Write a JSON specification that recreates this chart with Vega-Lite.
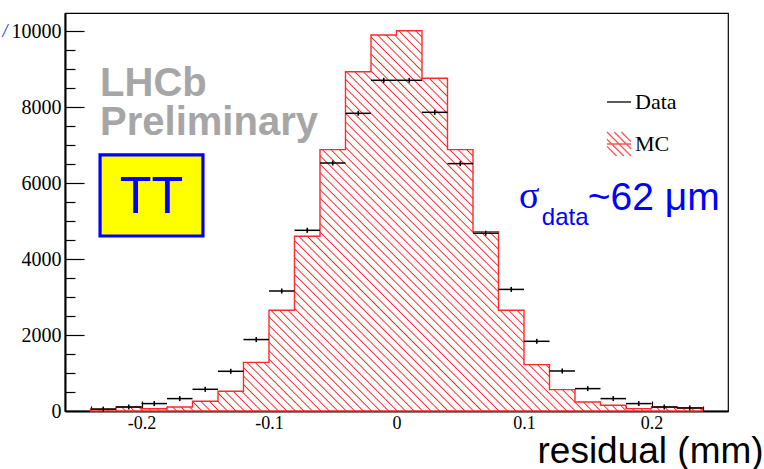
{
  "$schema": "https://vega.github.io/schema/vega-lite/v6.json",
  "width": 663,
  "height": 398,
  "autosize": "none",
  "padding": {"left": 65, "top": 13, "right": 36, "bottom": 58},
  "background": "white",
  "config": {
    "view": {"stroke": "black", "strokeWidth": 1.2},
    "axis": {"grid": false, "labelOverlap": false},
    "legend": {
      "labelFont": "Liberation Serif",
      "labelFontSize": 22,
      "labelColor": "black",
      "labelOffset": 3,
      "symbolSize": 576,
      "symbolStrokeWidth": 1.3,
      "orient": "none"
    }
  },
  "resolve": {
    "axis": {"x": "independent", "y": "independent"},
    "scale": {"stroke": "independent"},
    "legend": {"stroke": "independent"}
  },
  "data": {
    "values": [
      {"lo": -0.24, "hi": -0.22, "residual": -0.23, "mc": 50, "data": 50},
      {"lo": -0.22, "hi": -0.2, "residual": -0.21, "mc": 105, "data": 105},
      {"lo": -0.2, "hi": -0.18, "residual": -0.19, "mc": 60, "data": 195},
      {"lo": -0.18, "hi": -0.16, "residual": -0.17, "mc": 105, "data": 326},
      {"lo": -0.16, "hi": -0.14, "residual": -0.15, "mc": 255, "data": 571},
      {"lo": -0.14, "hi": -0.12, "residual": -0.13, "mc": 518, "data": 1045},
      {"lo": -0.12, "hi": -0.1, "residual": -0.11, "mc": 1280, "data": 1880},
      {"lo": -0.1, "hi": -0.08, "residual": -0.09, "mc": 2650, "data": 3158},
      {"lo": -0.08, "hi": -0.06, "residual": -0.07, "mc": 4597, "data": 4755},
      {"lo": -0.06, "hi": -0.04, "residual": -0.05, "mc": 6879, "data": 6526},
      {"lo": -0.04, "hi": -0.02, "residual": -0.03, "mc": 8929, "data": 7834},
      {"lo": -0.02, "hi": 0, "residual": -0.01, "mc": 9895, "data": 8703},
      {"lo": 0, "hi": 0.02, "residual": 0.01, "mc": 10008, "data": 8703},
      {"lo": 0.02, "hi": 0.04, "residual": 0.03, "mc": 8755, "data": 7860},
      {"lo": 0.04, "hi": 0.06, "residual": 0.05, "mc": 6879, "data": 6510},
      {"lo": 0.06, "hi": 0.08, "residual": 0.07, "mc": 4720, "data": 4680},
      {"lo": 0.08, "hi": 0.1, "residual": 0.09, "mc": 2650, "data": 3200},
      {"lo": 0.1, "hi": 0.12, "residual": 0.11, "mc": 1220, "data": 1834},
      {"lo": 0.12, "hi": 0.14, "residual": 0.13, "mc": 563, "data": 1053},
      {"lo": 0.14, "hi": 0.16, "residual": 0.15, "mc": 237, "data": 589},
      {"lo": 0.16, "hi": 0.18, "residual": 0.17, "mc": 150, "data": 326},
      {"lo": 0.18, "hi": 0.2, "residual": 0.19, "mc": 63, "data": 195},
      {"lo": 0.2, "hi": 0.22, "residual": 0.21, "mc": 105, "data": 105},
      {"lo": 0.22, "hi": 0.24, "residual": 0.23, "mc": 80, "data": 80}
    ]
  },
  "layer": [
    {
      "transform": [{"fold": ["lo", "hi"], "as": ["edge", "edge_x"]}],
      "mark": {
        "type": "area",
        "strokeWidth": 1.4,
        "fill": {
          "gradient": "linear",
          "x1": 0, "y1": 1, "x2": 1, "y2": 0.3786,
          "stops": [
            {"offset":0,"color":"#fff"},{"offset":0.0015,"color":"#f22"},{"offset":0.003,"color":"#fff"},
            {"offset":0.01,"color":"#fff"},{"offset":0.0115,"color":"#f22"},{"offset":0.013,"color":"#fff"},
            {"offset":0.02,"color":"#fff"},{"offset":0.0215,"color":"#f22"},{"offset":0.023,"color":"#fff"},
            {"offset":0.03,"color":"#fff"},{"offset":0.0315,"color":"#f22"},{"offset":0.033,"color":"#fff"},
            {"offset":0.04,"color":"#fff"},{"offset":0.0415,"color":"#f22"},{"offset":0.043,"color":"#fff"},
            {"offset":0.05,"color":"#fff"},{"offset":0.0515,"color":"#f22"},{"offset":0.053,"color":"#fff"},
            {"offset":0.06,"color":"#fff"},{"offset":0.0615,"color":"#f22"},{"offset":0.063,"color":"#fff"},
            {"offset":0.07,"color":"#fff"},{"offset":0.0715,"color":"#f22"},{"offset":0.073,"color":"#fff"},
            {"offset":0.08,"color":"#fff"},{"offset":0.0815,"color":"#f22"},{"offset":0.083,"color":"#fff"},
            {"offset":0.09,"color":"#fff"},{"offset":0.0915,"color":"#f22"},{"offset":0.093,"color":"#fff"},
            {"offset":0.1,"color":"#fff"},{"offset":0.1015,"color":"#f22"},{"offset":0.103,"color":"#fff"},
            {"offset":0.11,"color":"#fff"},{"offset":0.1115,"color":"#f22"},{"offset":0.113,"color":"#fff"},
            {"offset":0.12,"color":"#fff"},{"offset":0.1215,"color":"#f22"},{"offset":0.123,"color":"#fff"},
            {"offset":0.13,"color":"#fff"},{"offset":0.1315,"color":"#f22"},{"offset":0.133,"color":"#fff"},
            {"offset":0.14,"color":"#fff"},{"offset":0.1415,"color":"#f22"},{"offset":0.143,"color":"#fff"},
            {"offset":0.15,"color":"#fff"},{"offset":0.1515,"color":"#f22"},{"offset":0.153,"color":"#fff"},
            {"offset":0.16,"color":"#fff"},{"offset":0.1615,"color":"#f22"},{"offset":0.163,"color":"#fff"},
            {"offset":0.17,"color":"#fff"},{"offset":0.1715,"color":"#f22"},{"offset":0.173,"color":"#fff"},
            {"offset":0.18,"color":"#fff"},{"offset":0.1815,"color":"#f22"},{"offset":0.183,"color":"#fff"},
            {"offset":0.19,"color":"#fff"},{"offset":0.1915,"color":"#f22"},{"offset":0.193,"color":"#fff"},
            {"offset":0.2,"color":"#fff"},{"offset":0.2015,"color":"#f22"},{"offset":0.203,"color":"#fff"},
            {"offset":0.21,"color":"#fff"},{"offset":0.2115,"color":"#f22"},{"offset":0.213,"color":"#fff"},
            {"offset":0.22,"color":"#fff"},{"offset":0.2215,"color":"#f22"},{"offset":0.223,"color":"#fff"},
            {"offset":0.23,"color":"#fff"},{"offset":0.2315,"color":"#f22"},{"offset":0.233,"color":"#fff"},
            {"offset":0.24,"color":"#fff"},{"offset":0.2415,"color":"#f22"},{"offset":0.243,"color":"#fff"},
            {"offset":0.25,"color":"#fff"},{"offset":0.2515,"color":"#f22"},{"offset":0.253,"color":"#fff"},
            {"offset":0.26,"color":"#fff"},{"offset":0.2615,"color":"#f22"},{"offset":0.263,"color":"#fff"},
            {"offset":0.27,"color":"#fff"},{"offset":0.2715,"color":"#f22"},{"offset":0.273,"color":"#fff"},
            {"offset":0.28,"color":"#fff"},{"offset":0.2815,"color":"#f22"},{"offset":0.283,"color":"#fff"},
            {"offset":0.29,"color":"#fff"},{"offset":0.2915,"color":"#f22"},{"offset":0.293,"color":"#fff"},
            {"offset":0.3,"color":"#fff"},{"offset":0.3015,"color":"#f22"},{"offset":0.303,"color":"#fff"},
            {"offset":0.31,"color":"#fff"},{"offset":0.3115,"color":"#f22"},{"offset":0.313,"color":"#fff"},
            {"offset":0.32,"color":"#fff"},{"offset":0.3215,"color":"#f22"},{"offset":0.323,"color":"#fff"},
            {"offset":0.33,"color":"#fff"},{"offset":0.3315,"color":"#f22"},{"offset":0.333,"color":"#fff"},
            {"offset":0.34,"color":"#fff"},{"offset":0.3415,"color":"#f22"},{"offset":0.343,"color":"#fff"},
            {"offset":0.35,"color":"#fff"},{"offset":0.3515,"color":"#f22"},{"offset":0.353,"color":"#fff"},
            {"offset":0.36,"color":"#fff"},{"offset":0.3615,"color":"#f22"},{"offset":0.363,"color":"#fff"},
            {"offset":0.37,"color":"#fff"},{"offset":0.3715,"color":"#f22"},{"offset":0.373,"color":"#fff"},
            {"offset":0.38,"color":"#fff"},{"offset":0.3815,"color":"#f22"},{"offset":0.383,"color":"#fff"},
            {"offset":0.39,"color":"#fff"},{"offset":0.3915,"color":"#f22"},{"offset":0.393,"color":"#fff"},
            {"offset":0.4,"color":"#fff"},{"offset":0.4015,"color":"#f22"},{"offset":0.403,"color":"#fff"},
            {"offset":0.41,"color":"#fff"},{"offset":0.4115,"color":"#f22"},{"offset":0.413,"color":"#fff"},
            {"offset":0.42,"color":"#fff"},{"offset":0.4215,"color":"#f22"},{"offset":0.423,"color":"#fff"},
            {"offset":0.43,"color":"#fff"},{"offset":0.4315,"color":"#f22"},{"offset":0.433,"color":"#fff"},
            {"offset":0.44,"color":"#fff"},{"offset":0.4415,"color":"#f22"},{"offset":0.443,"color":"#fff"},
            {"offset":0.45,"color":"#fff"},{"offset":0.4515,"color":"#f22"},{"offset":0.453,"color":"#fff"},
            {"offset":0.46,"color":"#fff"},{"offset":0.4615,"color":"#f22"},{"offset":0.463,"color":"#fff"},
            {"offset":0.47,"color":"#fff"},{"offset":0.4715,"color":"#f22"},{"offset":0.473,"color":"#fff"},
            {"offset":0.48,"color":"#fff"},{"offset":0.4815,"color":"#f22"},{"offset":0.483,"color":"#fff"},
            {"offset":0.49,"color":"#fff"},{"offset":0.4915,"color":"#f22"},{"offset":0.493,"color":"#fff"},
            {"offset":0.5,"color":"#fff"},{"offset":0.5015,"color":"#f22"},{"offset":0.503,"color":"#fff"},
            {"offset":0.51,"color":"#fff"},{"offset":0.5115,"color":"#f22"},{"offset":0.513,"color":"#fff"},
            {"offset":0.52,"color":"#fff"},{"offset":0.5215,"color":"#f22"},{"offset":0.523,"color":"#fff"},
            {"offset":0.53,"color":"#fff"},{"offset":0.5315,"color":"#f22"},{"offset":0.533,"color":"#fff"},
            {"offset":0.54,"color":"#fff"},{"offset":0.5415,"color":"#f22"},{"offset":0.543,"color":"#fff"},
            {"offset":0.55,"color":"#fff"},{"offset":0.5515,"color":"#f22"},{"offset":0.553,"color":"#fff"},
            {"offset":0.56,"color":"#fff"},{"offset":0.5615,"color":"#f22"},{"offset":0.563,"color":"#fff"},
            {"offset":0.57,"color":"#fff"},{"offset":0.5715,"color":"#f22"},{"offset":0.573,"color":"#fff"},
            {"offset":0.58,"color":"#fff"},{"offset":0.5815,"color":"#f22"},{"offset":0.583,"color":"#fff"},
            {"offset":0.59,"color":"#fff"},{"offset":0.5915,"color":"#f22"},{"offset":0.593,"color":"#fff"},
            {"offset":0.6,"color":"#fff"},{"offset":0.6015,"color":"#f22"},{"offset":0.603,"color":"#fff"},
            {"offset":0.61,"color":"#fff"},{"offset":0.6115,"color":"#f22"},{"offset":0.613,"color":"#fff"},
            {"offset":0.62,"color":"#fff"},{"offset":0.6215,"color":"#f22"},{"offset":0.623,"color":"#fff"},
            {"offset":0.63,"color":"#fff"},{"offset":0.6315,"color":"#f22"},{"offset":0.633,"color":"#fff"},
            {"offset":0.64,"color":"#fff"},{"offset":0.6415,"color":"#f22"},{"offset":0.643,"color":"#fff"},
            {"offset":0.65,"color":"#fff"},{"offset":0.6515,"color":"#f22"},{"offset":0.653,"color":"#fff"},
            {"offset":0.66,"color":"#fff"},{"offset":0.6615,"color":"#f22"},{"offset":0.663,"color":"#fff"},
            {"offset":0.67,"color":"#fff"},{"offset":0.6715,"color":"#f22"},{"offset":0.673,"color":"#fff"},
            {"offset":0.68,"color":"#fff"},{"offset":0.6815,"color":"#f22"},{"offset":0.683,"color":"#fff"},
            {"offset":0.69,"color":"#fff"},{"offset":0.6915,"color":"#f22"},{"offset":0.693,"color":"#fff"},
            {"offset":0.7,"color":"#fff"},{"offset":0.7015,"color":"#f22"},{"offset":0.703,"color":"#fff"},
            {"offset":0.71,"color":"#fff"},{"offset":0.7115,"color":"#f22"},{"offset":0.713,"color":"#fff"},
            {"offset":0.72,"color":"#fff"},{"offset":0.7215,"color":"#f22"},{"offset":0.723,"color":"#fff"},
            {"offset":0.73,"color":"#fff"},{"offset":0.7315,"color":"#f22"},{"offset":0.733,"color":"#fff"},
            {"offset":0.74,"color":"#fff"},{"offset":0.7415,"color":"#f22"},{"offset":0.743,"color":"#fff"},
            {"offset":0.75,"color":"#fff"},{"offset":0.7515,"color":"#f22"},{"offset":0.753,"color":"#fff"},
            {"offset":0.76,"color":"#fff"},{"offset":0.7615,"color":"#f22"},{"offset":0.763,"color":"#fff"},
            {"offset":0.77,"color":"#fff"},{"offset":0.7715,"color":"#f22"},{"offset":0.773,"color":"#fff"},
            {"offset":0.78,"color":"#fff"},{"offset":0.7815,"color":"#f22"},{"offset":0.783,"color":"#fff"},
            {"offset":0.79,"color":"#fff"},{"offset":0.7915,"color":"#f22"},{"offset":0.793,"color":"#fff"},
            {"offset":0.8,"color":"#fff"},{"offset":0.8015,"color":"#f22"},{"offset":0.803,"color":"#fff"},
            {"offset":0.81,"color":"#fff"},{"offset":0.8115,"color":"#f22"},{"offset":0.813,"color":"#fff"},
            {"offset":0.82,"color":"#fff"},{"offset":0.8215,"color":"#f22"},{"offset":0.823,"color":"#fff"},
            {"offset":0.83,"color":"#fff"},{"offset":0.8315,"color":"#f22"},{"offset":0.833,"color":"#fff"},
            {"offset":0.84,"color":"#fff"},{"offset":0.8415,"color":"#f22"},{"offset":0.843,"color":"#fff"},
            {"offset":0.85,"color":"#fff"},{"offset":0.8515,"color":"#f22"},{"offset":0.853,"color":"#fff"},
            {"offset":0.86,"color":"#fff"},{"offset":0.8615,"color":"#f22"},{"offset":0.863,"color":"#fff"},
            {"offset":1,"color":"#fff"}
          ]
        }
      },
      "encoding": {
        "x": {
          "field": "edge_x",
          "type": "quantitative",
          "scale": {"domain": [-0.26, 0.26], "nice": false, "zero": false},
          "axis": {
            "orient": "bottom",
            "values": [-0.2, -0.1, 0, 0.1, 0.2],
            "labelExpr": "replace(format(datum.value, '.1~f'), '\u2212', '-')",
            "tickSize": -10,
            "tickColor": "black",
            "tickWidth": 1.2,
            "domainColor": "black",
            "domainWidth": 2,
            "labelFont": "Liberation Serif",
            "labelFontSize": 18,
            "labelColor": "black",
            "labelPadding": 13,
            "labelFlush": false,
            "title": "residual (mm)",
            "titleFont": "Liberation Sans",
            "titleFontSize": 37,
            "titleFontWeight": "normal",
            "titleColor": "black",
            "titleAlign": "left",
            "titleBaseline": "alphabetic",
            "titleX": 472,
            "titleY": 51
          }
        },
        "y": {
          "field": "mc",
          "type": "quantitative",
          "stack": null,
          "scale": {"domain": [0, 10474], "nice": false},
          "axis": {
            "orient": "left",
            "values": [0, 2000, 4000, 6000, 8000, 10000],
            "format": "d",
            "tickSize": -19,
            "tickColor": "black",
            "tickWidth": 1.2,
            "domainColor": "black",
            "domainWidth": 2,
            "labelFont": "Liberation Serif",
            "labelFontSize": 20,
            "labelColor": "black",
            "labelPadding": 23,
            "title": "/",
            "titleFont": "Liberation Serif",
            "titleFontStyle": "italic",
            "titleFontWeight": "normal",
            "titleFontSize": 18,
            "titleColor": "#1a1aff",
            "titleAngle": 0,
            "titleAlign": "left",
            "titleBaseline": "alphabetic",
            "titleX": -63,
            "titleY": 23
          }
        },
        "order": [
          {"field": "edge_x", "type": "quantitative"},
          {"field": "edge", "type": "ordinal"}
        ],
        "stroke": {
          "datum": "MC",
          "type": "nominal",
          "scale": {"domain": ["MC"], "range": ["#ff2a2a"]},
          "legend": {
            "legendX": 541,
            "legendY": 118,
            "title": null,
            "symbolType": "M-1,-1L1,1M-0.4,-1L1,0.4M0.2,-1L1,-0.2M-1,-0.4L0.4,1M-1,0.2L-0.2,1M-1,0L1,0",
            "symbolOpacity": 0.8
          }
        }
      }
    },
    {
      "mark": {"type": "rule", "strokeWidth": 1.5},
      "encoding": {
        "x": {
          "field": "lo",
          "type": "quantitative",
          "axis": {
            "orient": "bottom",
            "values": [-0.24, -0.22, -0.18, -0.16, -0.14, -0.12, -0.08, -0.06, -0.04, -0.02, 0.02, 0.04, 0.06, 0.08, 0.12, 0.14, 0.16, 0.18, 0.22, 0.24],
            "labels": false,
            "domain": false,
            "title": null,
            "tickSize": -5,
            "tickColor": "black",
            "tickWidth": 1.2
          }
        },
        "x2": {"field": "hi"},
        "y": {
          "field": "data",
          "type": "quantitative",
          "axis": {
            "orient": "left",
            "values": [500, 1000, 1500, 2500, 3000, 3500, 4500, 5000, 5500, 6500, 7000, 7500, 8500, 9000, 9500],
            "labels": false,
            "domain": false,
            "title": null,
            "tickSize": -10,
            "tickColor": "black",
            "tickWidth": 1.2
          }
        },
        "stroke": {
          "datum": "Data",
          "type": "nominal",
          "scale": {"domain": ["Data"], "range": ["black"]},
          "legend": {
            "legendX": 541,
            "legendY": 76,
            "title": null,
            "symbolType": "M-1,0L1,0"
          }
        }
      }
    },
    {
      "mark": {"type": "tick", "orient": "vertical", "size": 5, "thickness": 1.6, "color": "black", "opacity": 1},
      "encoding": {
        "x": {"field": "residual", "type": "quantitative", "axis": null},
        "y": {"field": "data", "type": "quantitative", "axis": null}
      }
    },
    {
      "data": {"values": [{"label": "TT"}]},
      "mark": {"type": "rect", "fill": "#ffff00", "stroke": "#0000ff", "strokeWidth": 3.2},
      "encoding": {
        "x": {"datum": -0.2325, "type": "quantitative", "axis": null},
        "x2": {"datum": -0.1518},
        "y": {"datum": 6738, "type": "quantitative", "axis": null},
        "y2": {"datum": 4606}
      }
    },
    {
      "data": {"values": [{"label": "TT"}]},
      "mark": {"type": "text", "font": "Liberation Sans", "fontSize": 52, "color": "#0000ff", "align": "center", "baseline": "alphabetic"},
      "encoding": {
        "x": {"datum": -0.1922, "type": "quantitative", "axis": null},
        "y": {"datum": 5211, "type": "quantitative", "axis": null},
        "text": {"field": "label"}
      }
    },
    {
      "data": {"values": [{"label": "LHCb"}]},
      "mark": {"type": "text", "font": "Liberation Sans", "fontWeight": "bold", "fontSize": 40, "color": "#a6a6a6", "align": "left", "baseline": "alphabetic"},
      "encoding": {
        "x": {"datum": -0.2325, "type": "quantitative", "axis": null},
        "y": {"datum": 8291, "type": "quantitative", "axis": null},
        "text": {"field": "label"}
      }
    },
    {
      "data": {"values": [{"label": "Preliminary"}]},
      "mark": {"type": "text", "font": "Liberation Sans", "fontWeight": "bold", "fontSize": 40, "color": "#a6a6a6", "align": "left", "baseline": "alphabetic"},
      "encoding": {
        "x": {"datum": -0.2325, "type": "quantitative", "axis": null},
        "y": {"datum": 7264, "type": "quantitative", "axis": null},
        "text": {"field": "label"}
      }
    },
    {
      "data": {"values": [{"label": "σ"}]},
      "mark": {"type": "text", "font": "Liberation Serif", "fontSize": 38, "color": "#0000ff", "align": "left", "baseline": "alphabetic"},
      "encoding": {
        "x": {"datum": 0.096, "type": "quantitative", "axis": null},
        "y": {"datum": 5343, "type": "quantitative", "axis": null},
        "text": {"field": "label"}
      }
    },
    {
      "data": {"values": [{"label": "data"}]},
      "mark": {"type": "text", "font": "Liberation Sans", "fontSize": 24, "color": "#0000ff", "align": "left", "baseline": "alphabetic"},
      "encoding": {
        "x": {"datum": 0.114, "type": "quantitative", "axis": null},
        "y": {"datum": 4896, "type": "quantitative", "axis": null},
        "text": {"field": "label"}
      }
    },
    {
      "data": {"values": [{"label": "~62 μm"}]},
      "mark": {"type": "text", "font": "Liberation Sans", "fontSize": 39, "color": "#0000ff", "align": "left", "baseline": "alphabetic"},
      "encoding": {
        "x": {"datum": 0.15, "type": "quantitative", "axis": null},
        "y": {"datum": 5290, "type": "quantitative", "axis": null},
        "text": {"field": "label"}
      }
    }
  ]
}
